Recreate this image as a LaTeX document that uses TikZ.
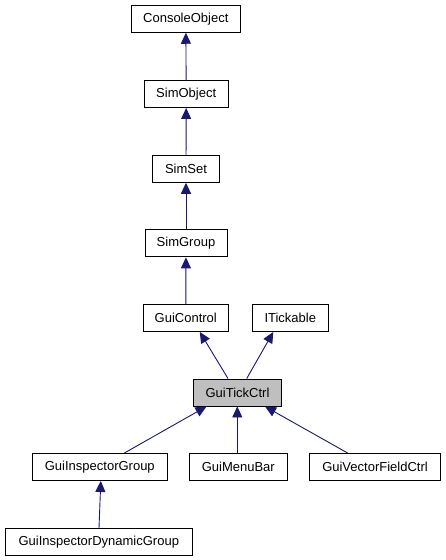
\documentclass[tikz,border=0pt]{standalone}
\usepackage{fontspec}
\setmainfont{Liberation Sans}
\usetikzlibrary{arrows.meta}
\definecolor{edgeblue}{RGB}{25,25,112}
\definecolor{curgray}{RGB}{191,191,191}
\begin{document}
\begin{tikzpicture}[x=1pt,y=-1pt,
  cls/.style={draw=black,line width=0.9pt,fill=white,minimum height=27pt,inner sep=0pt,
    font=\fontsize{13}{15}\selectfont},
  cur/.style={cls,fill=curgray},
  edge/.style={draw=edgeblue,line width=0.9pt,-{Triangle[length=11pt,width=10pt]}}]
\useasboundingbox (0,0) rectangle (445,560);
\fill[white] (0,0) rectangle (445,560);
\node[cls,minimum width=109pt] (co) at (185.8,18.8) {ConsoleObject};
\node[cls,minimum width=84pt] (so) at (186.2,94) {SimObject};
\node[cls,minimum width=66.6pt] (ss) at (186,168.8) {SimSet};
\node[cls,minimum width=82pt] (sg) at (186,243.4) {SimGroup};
\node[cls,minimum width=85pt] (gc) at (185.8,318) {GuiControl};
\node[cls,minimum width=76pt] (it) at (290.3,318) {ITickable};
\node[cur,minimum width=88.4pt] (tc) at (237.5,392.5) {GuiTickCtrl};
\node[cls,minimum width=135pt] (gig) at (99.8,467) {GuiInspectorGroup};
\node[cls,minimum width=98pt] (gmb) at (238.3,467) {GuiMenuBar};
\node[cls,minimum width=131.4pt] (gvf) at (375,467) {GuiVectorFieldCtrl};
\node[cls,minimum width=187.7pt] (gidg) at (98.8,542) {GuiInspectorDynamicGroup};
\draw[edge] (so) -- (co);
\draw[edge] (ss) -- (so);
\draw[edge] (sg) -- (ss);
\draw[edge] (gc) -- (sg);
\draw[edge] ([xshift=-9.5pt]tc.north) -- ([xshift=14pt]gc.south);
\draw[edge] ([xshift=9.2pt]tc.north) -- ([xshift=-17pt]it.south);
\draw[edge] ([xshift=24.5pt]gig.north) -- ([xshift=-31pt]tc.south);
\draw[edge] ([xshift=-1pt]gmb.north) -- ([xshift=-0.2pt]tc.south);
\draw[edge] ([xshift=-27.3pt]gvf.north) -- ([xshift=27.5pt]tc.south);
\draw[edge] ([xshift=0.2pt]gidg.north) -- ([xshift=1pt]gig.south);
\end{tikzpicture}
\end{document}
